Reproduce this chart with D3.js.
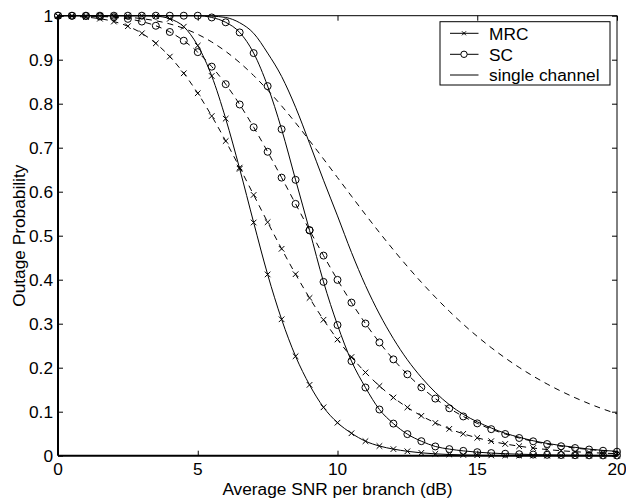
<!DOCTYPE html>
<html>
<head>
<meta charset="utf-8">
<script src="https://cdn.jsdelivr.net/npm/d3@7"></script>
<style>
  html, body { margin: 0; padding: 0; background: #fff; }
  svg { display: block; }
  text { font-family: "Liberation Sans", Arial, Helvetica, sans-serif; fill: #000; }
</style>
</head>
<body>
<svg id="chart" width="626" height="500"></svg>
<script>
// ---- data ----
const snr = [0,0.5,1,1.5,2,2.5,3,3.5,4,4.5,5,5.5,6,6.5,7,7.5,8,8.5,9,9.5,10,
             10.5,11,11.5,12,12.5,13,13.5,14,14.5,15,15.5,16,16.5,17,17.5,18,18.5,19,19.5,20];

// solid curves
const mrcSolid = [1,1,1,1,1,1,1,0.999,0.993,0.975,0.932,0.863,0.766,0.652,0.530,0.412,0.310,0.226,0.161,0.110,0.075,
                  0.051,0.033,0.022,0.015,0.010,0.0065,0.0042,0.0027,0.0017,0.0011,0.0007,0.0004,0.0003,0.0002,0.0001,0.0001,0,0,0,0];
const scSolid = [1,1,1,1,1,1,1,1,1,1,1,0.996,0.985,0.962,0.915,0.840,0.742,0.627,0.512,0.395,0.297,
                 0.215,0.155,0.105,0.073,0.049,0.033,0.021,0.015,0.011,0.008,0.006,0.0045,0.0034,0.0026,0.002,0.0015,0.0011,0.0009,0.0007,0.0005];
const singleSolid = [1,1,1,1,1,1,1,1,1,1,1,0.999,0.996,0.984,0.960,0.915,0.862,0.792,0.710,0.626,0.545,
                     0.462,0.387,0.322,0.266,0.218,0.178,0.144,0.116,0.094,0.077,0.063,0.051,0.042,0.034,0.028,0.023,0.019,0.015,0.012,0.010];

// dashed curves
const mrcDashed = [0.9995,0.9987,0.9968,0.9932,0.9867,0.9761,0.9600,0.9372,0.9070,0.8691,0.8238,0.7720,0.7151,0.6548,0.5927,0.5307,0.4702,0.4125,0.3585,0.3090,0.2642,
                   0.2243,0.1892,0.1585,0.1322,0.1097,0.0906,0.0745,0.0610,0.0498,0.0406,0.0330,0.0267,0.0216,0.0174,0.0140,0.0113,0.0091,0.0073,0.0058,0.0047];
const scDashed = [1.0000,0.9997,0.9993,0.9983,0.9964,0.9928,0.9867,0.9771,0.9630,0.9432,0.9172,0.8842,0.8444,0.7982,0.7465,0.6907,0.6320,0.5723,0.5127,0.4548,0.3996,
                  0.3480,0.3004,0.2574,0.2189,0.1850,0.1554,0.1298,0.1078,0.0892,0.0735,0.0603,0.0493,0.0402,0.0327,0.0265,0.0215,0.0174,0.0140,0.0113,0.0091];
const singleDashed = [1.0000,0.9999,0.9996,0.9992,0.9982,0.9964,0.9933,0.9885,0.9813,0.9712,0.9577,0.9403,0.9189,0.8934,0.8640,0.8311,0.7950,0.7565,0.7160,0.6744,0.6321,
                      0.5899,0.5481,0.5073,0.4679,0.4301,0.3942,0.3603,0.3284,0.2987,0.2711,0.2456,0.2221,0.2006,0.1809,0.1629,0.1466,0.1318,0.1183,0.1061,0.0952];

const xTicks = [0,5,10,15,20];
const yTicks = [0,0.1,0.2,0.3,0.4,0.5,0.6,0.7,0.8,0.9,1];
const yTickLabels = ["0","0.1","0.2","0.3","0.4","0.5","0.6","0.7","0.8","0.9","1"];
const legendLabels = ["MRC","SC","single channel"];
const xTitle = "Average SNR per branch (dB)";
const yTitle = "Outage Probability";

// ---- layout ----
const L = 58, R = 617, T = 15.7, B = 455.7;
const svg = d3.select("#chart");
const x = d3.scaleLinear().domain([0,20]).range([L,R]);
const y = d3.scaleLinear().domain([0,1]).range([B,T]);
const FS = 17.3;

// axes with inward ticks
const tl = 5;
svg.append("g").attr("transform",`translate(0,${B})`)
  .call(d3.axisBottom(x).tickValues(xTicks).tickSizeInner(-tl).tickSizeOuter(0).tickFormat(""))
  .call(g=>g.select(".domain").remove())
  .call(g=>g.selectAll("line").attr("stroke","#000"));
svg.append("g").attr("transform",`translate(0,${T})`)
  .call(d3.axisTop(x).tickValues(xTicks).tickSizeInner(-tl).tickSizeOuter(0).tickFormat(""))
  .call(g=>g.select(".domain").remove())
  .call(g=>g.selectAll("line").attr("stroke","#000"));
svg.append("g").attr("transform",`translate(${L},0)`)
  .call(d3.axisLeft(y).tickValues(yTicks).tickSizeInner(-tl).tickSizeOuter(0).tickFormat(""))
  .call(g=>g.select(".domain").remove())
  .call(g=>g.selectAll("line").attr("stroke","#000"));
svg.append("g").attr("transform",`translate(${R},0)`)
  .call(d3.axisRight(y).tickValues(yTicks).tickSizeInner(-tl).tickSizeOuter(0).tickFormat(""))
  .call(g=>g.select(".domain").remove())
  .call(g=>g.selectAll("line").attr("stroke","#000"));

// frame
svg.append("line").attr("x1",L).attr("x2",R).attr("y1",T).attr("y2",T).attr("stroke","#000").attr("stroke-width",1);
svg.append("line").attr("x1",R).attr("x2",R).attr("y1",T).attr("y2",B).attr("stroke","#000").attr("stroke-width",1);
svg.append("line").attr("x1",L).attr("x2",R).attr("y1",B).attr("y2",B).attr("stroke","#000").attr("stroke-width",2);
svg.append("line").attr("x1",L).attr("x2",L).attr("y1",T).attr("y2",B).attr("stroke","#000").attr("stroke-width",2);

// tick labels
svg.append("g").selectAll("text").data(xTicks).join("text")
  .attr("x",d=>x(d)).attr("y",475).attr("text-anchor","middle")
  .style("font-size",FS+"px").text(d=>d);
svg.append("g").selectAll("text").data(yTicks).join("text")
  .attr("x",53).attr("y",d=>y(d)).attr("dy","0.36em").attr("text-anchor","end")
  .style("font-size",FS+"px").text((d,i)=>yTickLabels[i]);

// titles
svg.append("text").attr("x",(L+R)/2).attr("y",495).attr("text-anchor","middle")
  .style("font-size",FS+"px").text(xTitle);
svg.append("text").attr("transform",`translate(25,${(T+B)/2}) rotate(-90)`).attr("text-anchor","middle")
  .style("font-size",FS+"px").text(yTitle);

// curves
const series = [
  {vals: mrcSolid, dash: null, marker: "x"},
  {vals: mrcDashed, dash: "6,5", marker: "x"},
  {vals: scSolid, dash: null, marker: "o"},
  {vals: scDashed, dash: "6,5", marker: "o"},
  {vals: singleSolid, dash: null, marker: null},
  {vals: singleDashed, dash: "6,5", marker: null}
];
const line = d3.line().x(d=>x(d[0])).y(d=>y(d[1])).curve(d3.curveMonotoneX);
const xPath = "M-2.8,-2.8L2.8,2.8M-2.8,2.8L2.8,-2.8";

series.forEach(s=>{
  const pts = snr.map((v,i)=>[v, s.vals[i]]);
  svg.append("path").datum(pts).attr("d",line)
    .attr("fill","none").attr("stroke","#000").attr("stroke-width",1)
    .attr("stroke-dasharray",s.dash);
  if (s.marker === "x") {
    svg.append("g").selectAll("path").data(pts).join("path")
      .attr("transform",d=>`translate(${x(d[0])},${y(d[1])})`)
      .attr("d",xPath).attr("stroke","#000").attr("stroke-width",1).attr("fill","none");
  } else if (s.marker === "o") {
    svg.append("g").selectAll("circle").data(pts).join("circle")
      .attr("cx",d=>x(d[0])).attr("cy",d=>y(d[1])).attr("r",3.5)
      .attr("stroke","#000").attr("stroke-width",1).attr("fill","none");
  }
});

// legend
const lg = svg.append("g");
lg.append("rect").attr("x",440).attr("y",21.7).attr("width",170).attr("height",63.3)
  .attr("fill","#fff").attr("stroke","#000").attr("stroke-width",1);
const rows = [33.3, 54.3, 75];
const mk = ["x","o",null];
legendLabels.forEach((lab,i)=>{
  const yy = rows[i];
  lg.append("line").attr("x1",450).attr("x2",478.5).attr("y1",yy).attr("y2",yy).attr("stroke","#000").attr("stroke-width",1);
  if (mk[i]==="x") lg.append("path").attr("transform",`translate(464,${yy})`).attr("d","M-2,-2L2,2M-2,2L2,-2").attr("stroke","#000").attr("stroke-width",1);
  if (mk[i]==="o") lg.append("circle").attr("cx",464).attr("cy",yy).attr("r",3.2).attr("fill","#fff").attr("stroke","#000").attr("stroke-width",1);
  lg.append("text").attr("x",489).attr("y",yy).attr("dy","0.36em").style("font-size",FS+"px").text(lab);
});
</script>
</body>
</html>
